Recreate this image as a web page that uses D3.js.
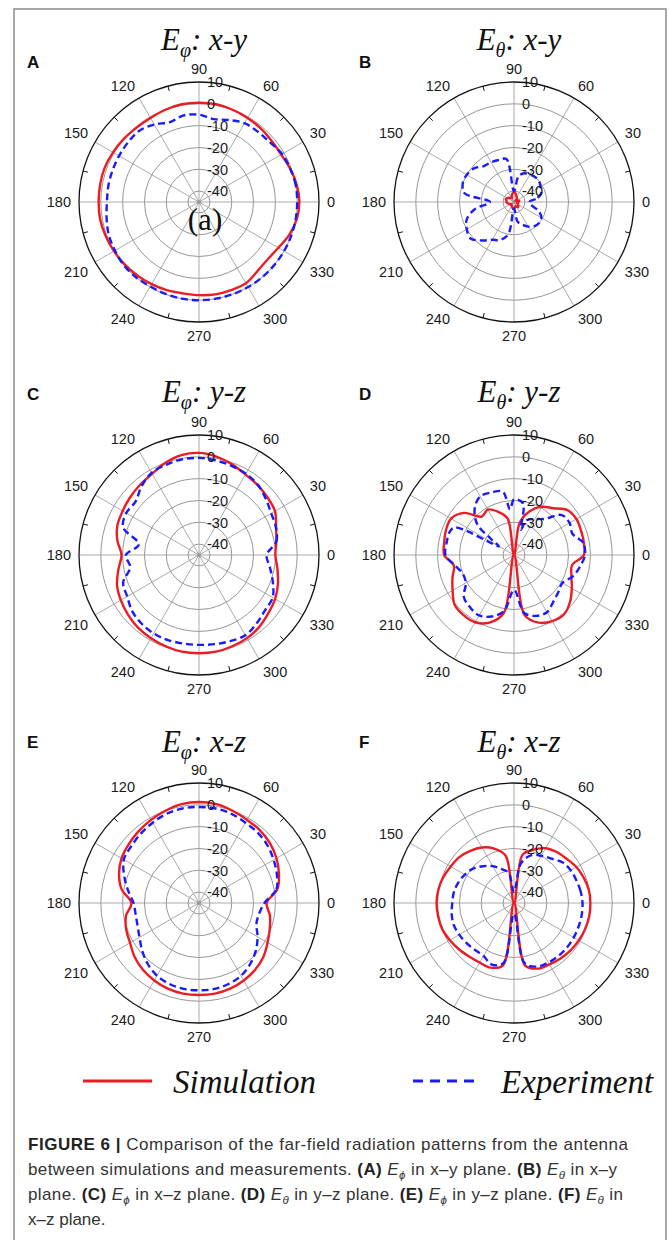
<!DOCTYPE html>
<html>
<head>
<meta charset="utf-8">
<script src="https://cdn.jsdelivr.net/npm/d3@7"></script>
<style>
  body { margin: 0; background: #fff; }
  svg { display: block; }
</style>
</head>
<body>
<div id="chart"></div>
<script>
// angles (deg) shared by most series
const deg = [0,10,20,30,40,50,60,70,80,90,100,110,120,130,140,150,160,170,180,190,200,210,220,230,240,250,260,270,280,290,300,310,320,330,340,350];

// panel A: E_phi, x-y
const simA = [1,0.5,-0.5,-1.5,-1.5,-1,-0.5,0,0.5,0.5, 0.5,0,-0.5,-0.5,0,0.5,1,1,1,1, 0.5,0,-0.5,-1,-1.5,-2,-2.5,-2.3,-2,-2, -2,-3.5,-4,-3,-1,0.5];
const expA = [0,0,-0.5,-1,-2.5,-3,-3.3,-5,-6.4,-5, -4.7,-6,-4,-2.4,-2.5,-2.7,-2.8,-2.8,-2.8,-2, -1,-0.5,0,0,-0.3,-0.2,0,0,0,0, 0,0,0,0,0,0];
// panel B: E_theta, x-y
const simB = [-43,-42.5,-43,-44,-44,-43,-42.5,-42,-41,-40.5, -41,-42,-43,-42.5,-42,-41.5,-41,-41.5,-41.5,-42, -42.5,-43,-43.5,-43,-43,-42.5,-42,-42,-42.5,-43, -42.5,-42,-42.5,-43,-43.5,-43];
const expB = [-38,-34,-31.5,-31,-30,-30,-30.5,-31,-33,-40, -25,-24.5,-24,-23.5,-21,-20,-20,-22,-34,-27, -22,-20,-19,-22,-25,-26.5,-30,-42,-36,-34, -32,-30.5,-30,-30.5,-33,-37];
// panel C: E_phi, y-z
const simC = [-10,-9,-7.4,-4.8,-4,-3.2,-2.4,-0.8,0.8,1.8, 1.5,0,-2,-3,-3.8,-4.6,-5.2,-7,-9.5,-7.5, -5,-3.6,-2.5,-1.5,-1,-0.5,0,0,0,-0.5, -1,-2,-3.5,-4.7,-6.5,-8.5];
const expC = [-14,-9,-7.5,-6.8,-5,-3,-2,-1.5,-1,-0.5, -0.5,-1,-1.5,-4,-7,-6.5,-8,-17,-11.5,-13, -8,-7,-5,-4,-3.5,-3.5,-3.8,-3.8,-3.5,-3, -2.5,-4,-5.5,-6,-9,-12];
// panel D: E_theta, y-z
const simD = [-13,-12.5,-12.3,-12,-13,-17,-19.5,-23.5,-30,-45, -28,-24,-21,-22,-15,-11.7,-11.8,-12.5,-13,-17, -15,-12.5,-9.5,-9,-9.4,-12,-18,-45,-17,-12, -10,-9.4,-11.5,-14.4,-17,-18];
const expDdeg = [0,10,20,30,40,50,60,70,75,80, 90,95,100,110,120,130,140,145,150,155, 160,170,180,190,200,210,220,230,240,250, 260,270,280,290,300,310,320,330,340,350];
const expD = [-12.5,-12.8,-16.5,-15.6,-16.5,-23.4,-26,-28,-33,-21, -19.5,-24,-15.5,-14.5,-14,-17,-23,-32,-37,-15, -13.7,-13.6,-13.6,-17.5,-20,-19.5,-15,-13.7,-13,-15, -19,-29,-18,-15.3,-14.7,-17,-18.5,-19.4,-16.3,-14.3];
// panel E: E_phi, x-z
const simE = [-14,-8.5,-6,-4,-2.5,-1.5,-1,0,1,1.3, 1,0,-1,-2,-3,-4,-6,-9,-14,-11, -9.5,-8.5,-6.5,-5,-4,-3.2,-2.8,-2.8,-2.8,-3.2, -4,-5,-6.5,-8.7,-10.5,-12];
const expE = [-15,-9,-7,-5.5,-4,-3,-2.5,-1.5,-1,-1, -1,-1.5,-2.5,-3.5,-4.5,-5.2,-8.5,-12,-15,-15.5, -15,-13.5,-11,-8.5,-6.5,-5.5,-5,-5,-5,-5.5, -6.5,-8.5,-11,-14,-17,-17];
// panel F: E_theta, x-z
const simF = [-10,-10.2,-11,-12,-13.5,-14.5,-16,-19,-22.6,-45, -23,-18.5,-15.6,-13.8,-12.3,-11.5,-10.5,-9.8,-9.5,-9.7, -10,-11,-12,-13,-13.5,-13.5,-16,-45,-16,-13, -12.5,-11.8,-11.2,-10.7,-10.3,-10];
const expF = [-13.6,-14,-14.6,-15,-16,-18.4,-20,-21.7,-26.5,-40, -31,-28.5,-25.5,-23,-20.5,-19,-17.8,-17,-16.7,-16, -15.6,-16,-16.5,-17,-17,-15,-17,-40,-17,-14, -13.5,-13.3,-13.3,-13.4,-13.5,-13.5];

// axes
const ringDb = [-40,-30,-20,-10,0];
const radialTicks = [10,0,-10,-20,-30,-40];
const spokeDeg = [0,30,60,90,120,150,180,210,240,270,300,330];
const minorDeg = [15,45,75,105,135,165,195,225,255,285,315,345];
const panelLetters = ['A','B','C','D','E','F'];
const fieldSubs = ['φ','θ','φ','θ','φ','θ'];
const planeNames = ['x-y','x-y','y-z','y-z','x-z','x-z'];
const legendNames = ['Simulation','Experiment'];

const W = 669, H = 1240;
const R = 120;
const colX = [199, 514];
const rowY = [202, 555, 903];
const titleBase = [50, 402, 752];
const letterBase = [68, 400, 748];
const letterX = [27, 359];
const RED = '#ec1c24', BLUE = '#1a1aff';
const SANS = '"Liberation Sans", Arial, sans-serif';
const SERIF = '"Liberation Serif", "Times New Roman", serif';

const svg = d3.select('#chart').append('svg')
  .attr('width', W).attr('height', H);

svg.append('rect').attr('width', W).attr('height', H).attr('fill', '#fff');
// outer frame
svg.append('rect')
  .attr('x', 14).attr('y', 9).attr('width', 652).attr('height', 1240)
  .attr('fill', 'none').attr('stroke', '#8c8c8c').attr('stroke-width', 1.5);

const r = d3.scaleLinear().domain([-45, 10]).range([0, R]).clamp(true);
const ang = d3.scaleLinear().domain([0, 360]).range([0, 2 * Math.PI]);
const px = (a, rad) => rad * Math.cos(ang(a));
const py = (a, rad) => -rad * Math.sin(ang(a));

const radial = d3.lineRadial()
  .angle(d => Math.PI / 2 - ang(d.a))
  .radius(d => r(d.v))
  .curve(d3.curveCatmullRomClosed.alpha(0.5));

const panels = [
  { sim: [deg, simA], exp: [deg, expA] },
  { sim: [deg, simB], exp: [deg, expB] },
  { sim: [deg, simC], exp: [deg, expC] },
  { sim: [deg, simD], exp: [expDdeg, expD] },
  { sim: [deg, simE], exp: [deg, expE] },
  { sim: [deg, simF], exp: [deg, expF] }
];

function pts(pair) { return pair[0].map((a, i) => ({ a: a, v: pair[1][i] })); }

panels.forEach((p, i) => {
  const col = i % 2, row = Math.floor(i / 2);
  const cx = colX[col], cy = rowY[row];
  const g = svg.append('g').attr('transform', `translate(${cx},${cy})`);

  // grid rings
  g.selectAll('circle.ring').data(ringDb).join('circle')
    .attr('class', 'ring').attr('r', d => r(d))
    .attr('fill', 'none').attr('stroke', '#8a8a8a').attr('stroke-width', 0.9);
  // spokes
  g.selectAll('line.spoke').data(spokeDeg).join('line')
    .attr('class', 'spoke')
    .attr('x1', 0).attr('y1', 0)
    .attr('x2', d => px(d, R)).attr('y2', d => py(d, R))
    .attr('stroke', '#a0a0a0').attr('stroke-width', 0.9);
  // outer ring
  g.append('circle').attr('r', r(10))
    .attr('fill', 'none').attr('stroke', '#111').attr('stroke-width', 1.3);
  // minor ticks
  g.selectAll('line.minor').data(minorDeg).join('line')
    .attr('x1', d => px(d, R - 5)).attr('y1', d => py(d, R - 5))
    .attr('x2', d => px(d, R)).attr('y2', d => py(d, R))
    .attr('stroke', '#111').attr('stroke-width', 1);
  g.append('circle').attr('r', 2).attr('fill', '#999');

  // angle labels
  g.selectAll('text.ang').data(spokeDeg).join('text')
    .attr('class', 'ang')
    .attr('x', d => px(d, R + 8)).attr('y', d => py(d, R + 8))
    .attr('text-anchor', d => {
      const c = Math.cos(ang(d));
      return c > 0.3 ? 'start' : (c < -0.3 ? 'end' : 'middle');
    })
    .attr('dy', d => {
      const s = Math.sin(ang(d));
      return s > 0.3 ? '0em' : (s < -0.3 ? '0.75em' : '0.36em');
    })
    .attr('font-family', SANS).attr('font-size', 14.5).attr('fill', '#1a1a1a')
    .text(d => d);

  // series
  g.append('path').datum(pts(p.sim))
    .attr('d', radial).attr('fill', 'none')
    .attr('stroke', RED).attr('stroke-width', 2.4);
  g.append('path').datum(pts(p.exp))
    .attr('d', radial).attr('fill', 'none')
    .attr('stroke', BLUE).attr('stroke-width', 2.4)
    .attr('stroke-dasharray', '7,4');

  // radial labels along 90 deg
  g.selectAll('text.rad').data(radialTicks).join('text')
    .attr('class', 'rad')
    .attr('x', 8).attr('y', d => -r(d)).attr('dy', '0.36em')
    .attr('font-family', SANS).attr('font-size', 14.5).attr('fill', '#1a1a1a')
    .text(d => d);

  if (i === 0) {
    g.append('text').attr('x', 6).attr('y', 28)
      .attr('text-anchor', 'middle')
      .attr('font-family', SERIF).attr('font-size', 31).attr('fill', '#111')
      .text('(a)');
  }

  // title
  const t = svg.append('text')
    .attr('x', cx + 5).attr('y', titleBase[row])
    .attr('text-anchor', 'middle')
    .attr('font-family', SERIF).attr('font-style', 'italic')
    .attr('font-size', 31).attr('fill', '#111');
  t.append('tspan').text('E');
  t.append('tspan').attr('font-size', 20).attr('dy', 7).text(fieldSubs[i]);
  t.append('tspan').attr('dy', -7).text(': ' + planeNames[i]);

  // panel letter
  svg.append('text')
    .attr('x', letterX[col]).attr('y', letterBase[row])
    .attr('font-family', SANS).attr('font-weight', 'bold')
    .attr('font-size', 17).attr('fill', '#111')
    .text(panelLetters[i]);
});

// legend
const legY = 1081;
svg.append('line').attr('x1', 83).attr('x2', 152).attr('y1', legY).attr('y2', legY)
  .attr('stroke', RED).attr('stroke-width', 3);
svg.append('line').attr('x1', 413).attr('x2', 474).attr('y1', legY).attr('y2', legY)
  .attr('stroke', BLUE).attr('stroke-width', 3).attr('stroke-dasharray', '10,7');
svg.selectAll('text.leg').data(legendNames).join('text')
  .attr('class', 'leg')
  .attr('x', (d, k) => k === 0 ? 173 : 501).attr('y', 1093)
  .attr('font-family', SERIF).attr('font-style', 'italic')
  .attr('font-size', 33).attr('fill', '#111')
  .text(d => d);

// caption
const captionLines = [
  [['b', 'FIGURE 6 | '], ['n', 'Comparison of the far-field radiation patterns from the antenna']],
  [['n', 'between simulations and measurements. '], ['b', '(A)'], ['n', ' '], ['i', 'E'], ['s', 'ϕ'], ['n', ' in x–y plane. '], ['b', '(B)'], ['n', ' '], ['i', 'E'], ['s', 'θ'], ['n', ' in x–y']],
  [['n', 'plane. '], ['b', '(C)'], ['n', ' '], ['i', 'E'], ['s', 'ϕ'], ['n', ' in x–z plane. '], ['b', '(D)'], ['n', ' '], ['i', 'E'], ['s', 'θ'], ['n', ' in y–z plane. '], ['b', '(E)'], ['n', ' '], ['i', 'E'], ['s', 'ϕ'], ['n', ' in y–z plane. '], ['b', '(F)'], ['n', ' '], ['i', 'E'], ['s', 'θ'], ['n', ' in']],
  [['n', 'x–z plane.']]
];
const capBase = [1150, 1175, 1200, 1225];
const capWidth = [600, 589, 595, 0];

captionLines.forEach((segs, li) => {
  const txt = svg.append('text')
    .attr('x', 28).attr('y', capBase[li])
    .attr('font-family', SANS).attr('font-size', 17).attr('fill', '#333');
  let shift = 0;
  segs.forEach(([kind, s]) => {
    const ts = txt.append('tspan').text(s);
    if (kind === 'b') ts.attr('font-weight', 'bold').attr('fill', '#222');
    if (kind === 'i') ts.attr('font-style', 'italic');
    if (kind === 's') {
      ts.attr('font-style', 'italic').attr('font-size', 11.5).attr('dy', 4);
      shift = 4;
    } else if (shift) {
      ts.attr('dy', -shift);
      shift = 0;
    }
  });
  if (capWidth[li]) {
    const node = txt.node();
    const natural = node.getComputedTextLength();
    const n = node.textContent.length;
    txt.attr('letter-spacing', ((capWidth[li] - natural) / (n - 1)).toFixed(3));
  }
});
</script>
</body>
</html>
